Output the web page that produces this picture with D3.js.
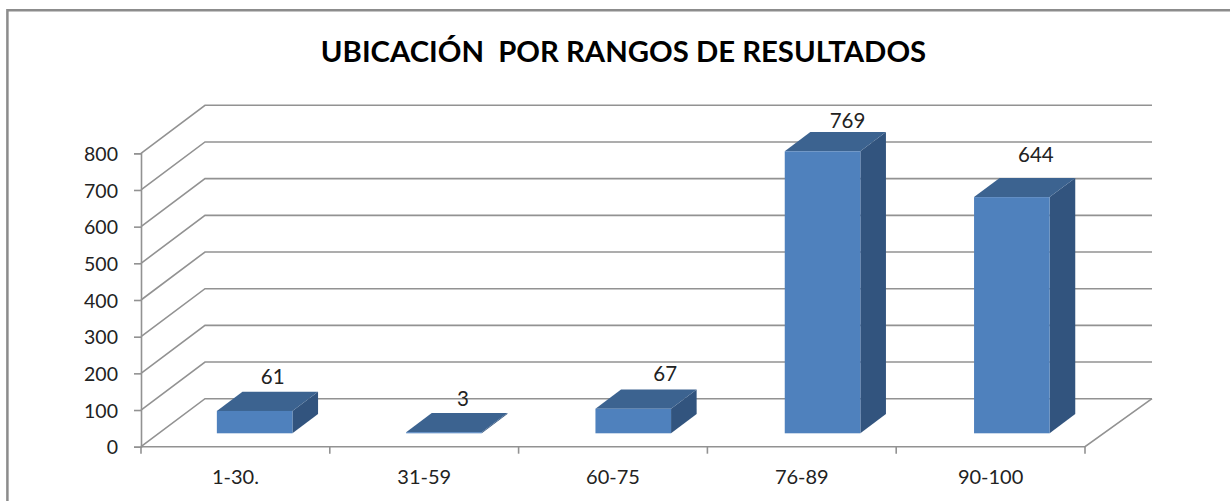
<!DOCTYPE html>
<html>
<head>
<meta charset="utf-8">
<script src="https://cdn.jsdelivr.net/npm/d3@7"></script>
<style>
html, body { margin: 0; padding: 0; background: #fff; }
svg { display: block; }
text { font-family: Lato, "Open Sans", sans-serif; fill: #222; }
</style>
</head>
<body>
<script>
// data
var categories = ["1-30.", "31-59", "60-75", "76-89", "90-100"];
var values = [61, 3, 67, 769, 644];
var yTicks = [0, 100, 200, 300, 400, 500, 600, 700, 800];
var title = "UBICACIÓN  POR RANGOS DE RESULTADOS";

// hand placed data labels, they are not regular in the original
var labelDx = [18, 19, 32, 25, 24];
var labelDy = [26.6, 26.6, 27.6, 23.6, 35.6];

var width = 1230, height = 501;
var depthX = 64, depthY = 48;   // floor depth in screen pixels
var backRight = 1152;           // back wall is a bit wider than the front
var gridColor = "#929292";

var svg = d3.select("body").append("svg")
    .attr("width", width)
    .attr("height", height);

var x = d3.scaleBand().domain(categories).range([141, 1085]);
var y = d3.scaleLinear().domain([0, 800]).range([446.7, 153.3]);
// bars stand further back on the floor so they get their own band scale
var barX = d3.scaleBand().domain(categories).range([160, 1106.5]);

function poly(points) {
    return d3.line()(points) + "Z";
}

// chart frame, only left and top show in the crop
svg.append("path")
    .attr("d", "M7.4," + height + "V10.3H" + width)
    .attr("fill", "none")
    .attr("stroke", "#8c8c8c")
    .attr("stroke-width", 2.5);

svg.append("text")
    .attr("x", 623.5)
    .attr("y", 62)
    .attr("text-anchor", "middle")
    .attr("font-size", 29.3)
    .attr("font-weight", 700)
    .style("white-space", "pre")
    .style("fill", "#000")
    .text(title);

// gridlines on side wall and back wall
var x0 = x.range()[0], x1 = x.range()[1];
svg.append("g").selectAll("path")
    .data(yTicks)
    .enter()
    .append("path")
    .attr("fill", "none")
    .attr("stroke", gridColor)
    .attr("stroke-width", 1.6)
    .attr("d", function(t) {
        return d3.line()([
            [x0, y(t)],
            [x0 + depthX, y(t) - depthY],
            [backRight, y(t) - depthY]
        ]);
    });

// floor, right and front edge
svg.append("path")
    .attr("fill", "none")
    .attr("stroke", gridColor)
    .attr("stroke-width", 1.6)
    .attr("d", d3.line()([
        [backRight, y(0) - depthY],
        [x1, y(0)],
        [x0, y(0)]
    ]));

// axes
var yAxis = d3.axisLeft(y).tickValues(yTicks).tickSize(7).tickPadding(16);
var gy = svg.append("g")
    .attr("transform", "translate(" + x0 + ",0)")
    .call(yAxis);
gy.selectAll("line, path").attr("stroke", gridColor).attr("stroke-width", 1.6);
gy.selectAll("text").attr("font-size", 19.5).attr("font-family", null)
    .attr("dy", "0.37em");

var xAxis = d3.axisBottom(x).tickSize(0).tickPadding(23);
var gx = svg.append("g")
    .attr("transform", "translate(0," + y(0) + ")")
    .call(xAxis);
gx.select(".domain").remove();
gx.selectAll("text").attr("font-size", 20).attr("font-family", null);

// ticks sit on the band edges, axisBottom puts them in the middle
svg.append("g").selectAll("line")
    .data(d3.range(categories.length + 1))
    .enter()
    .append("line")
    .attr("x1", function(i) { return x0 + i * x.step(); })
    .attr("x2", function(i) { return x0 + i * x.step(); })
    .attr("y1", y(0))
    .attr("y2", y(0) + 7)
    .attr("stroke", gridColor)
    .attr("stroke-width", 1.6);

// bars, front face starts 30% into the floor and depth is 40%
var barW = 75.6;
var barBase = y(0) - 13.4;
var barDx = depthX * 0.4, barDy = depthY * 0.4;

var bars = svg.append("g").selectAll("g")
    .data(values)
    .enter()
    .append("g");

function corners(v, i) {
    var left = barX(categories[i]) + barX.step() / 2 - barW / 2;
    return {
        left: left,
        right: left + barW,
        base: barBase,
        top: barBase - (y(0) - y(v))
    };
}

// side
bars.append("path")
    .attr("fill", "#32547e")
    .attr("d", function(v, i) {
        var k = corners(v, i);
        return poly([
            [k.right, k.base], [k.right + barDx, k.base - barDy],
            [k.right + barDx, k.top - barDy], [k.right, k.top]
        ]);
    });
// top
bars.append("path")
    .attr("fill", "#3c6390")
    .attr("d", function(v, i) {
        var k = corners(v, i);
        return poly([
            [k.left, k.top], [k.right, k.top],
            [k.right + barDx, k.top - barDy], [k.left + barDx, k.top - barDy]
        ]);
    });
// front
bars.append("rect")
    .attr("fill", "#4f81bd")
    .attr("x", function(v, i) { return corners(v, i).left; })
    .attr("y", function(v, i) { return corners(v, i).top; })
    .attr("width", barW)
    .attr("height", function(v, i) {
        var k = corners(v, i);
        return k.base - k.top;
    });

// data labels
svg.append("g").selectAll("text")
    .data(values)
    .enter()
    .append("text")
    .attr("text-anchor", "middle")
    .attr("font-size", 20.5)
    .attr("x", function(v, i) {
        var k = corners(v, i);
        return (k.left + k.right) / 2 + labelDx[i];
    })
    .attr("y", function(v, i) { return corners(v, i).top - labelDy[i]; })
    .text(function(v) { return v; });
</script>
</body>
</html>
